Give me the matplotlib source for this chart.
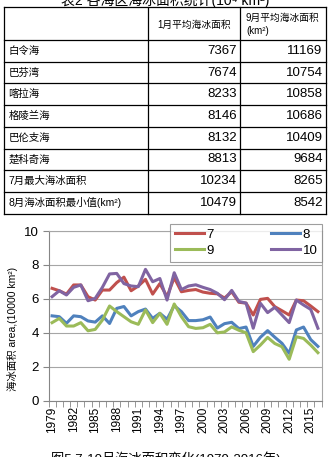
import matplotlib
matplotlib.use("Agg")
import matplotlib.pyplot as plt
import numpy as np

plt.rcParams["font.family"] = ["Liberation Sans", "Noto Sans CJK SC", "DejaVu Sans"]

# ---- table data ----
table_title = "表2 各海区海冰面积统计(10⁴ km²)"
col_headers = ["1月平均海冰面积", "9月平均海冰面积\n(km²)"]
row_labels = ["白令海", "巴芬湾", "喀拉海", "格陵兰海", "巴伦支海", "楚科奇海",
              "7月最大海冰面积", "8月海冰面积最小值(km²)"]
col1_vals = [7367, 7674, 8233, 8146, 8132, 8813, 10234, 10479]
col2_vals = [11169, 10754, 10858, 10686, 10409, 9684, 8265, 8542]

# ---- line chart data ----
years = list(range(1979, 2017))
jul = [6.62, 6.48, 6.28, 6.82, 6.82, 6.13, 5.93, 6.52, 6.52, 6.96,
       7.28, 6.48, 6.76, 7.15, 6.28, 6.90, 6.13, 7.25, 6.42, 6.50,
       6.55, 6.40, 6.33, 6.30, 6.05, 6.42, 5.80, 5.75, 5.05, 5.97,
       6.03, 5.54, 5.30, 5.05, 5.93, 5.89, 5.58, 5.25]
aug = [5.00, 4.95, 4.56, 5.00, 4.95, 4.70, 4.63, 5.00, 4.55, 5.44,
       5.55, 5.00, 5.25, 5.40, 4.85, 5.15, 4.80, 5.60, 5.25, 4.72,
       4.72, 4.77, 4.93, 4.28, 4.54, 4.62, 4.25, 4.34, 3.20, 3.74,
       4.13, 3.74, 3.38, 2.79, 4.17, 4.34, 3.60, 3.20]
sep = [4.60, 4.85, 4.40, 4.40, 4.60, 4.12, 4.20, 4.75, 5.58, 5.25,
       4.95, 4.65, 4.50, 5.35, 4.60, 5.15, 4.50, 5.70, 4.95, 4.36,
       4.26, 4.30, 4.50, 4.00, 4.05, 4.35, 4.15, 4.00, 2.89, 3.28,
       3.73, 3.37, 3.18, 2.44, 3.77, 3.67, 3.28, 2.83]
oct_ = [6.13, 6.48, 6.23, 6.68, 6.82, 5.89, 6.03, 6.68, 7.47, 7.50,
        6.90, 6.76, 6.72, 7.74, 7.01, 7.20, 5.93, 7.54, 6.55, 6.76,
        6.83, 6.68, 6.55, 6.33, 5.95, 6.50, 5.85, 5.75, 4.27, 5.74,
        5.19, 5.50, 5.05, 4.60, 5.93, 5.64, 5.38, 4.27]
series = [("7", jul, "#C0504D"), ("8", aug, "#4F81BD"),
          ("9", sep, "#9BBB59"), ("10", oct_, "#8064A2")]

W, H = 331, 457
fig = plt.figure(figsize=(W / 100, H / 100), dpi=100)

# overlay axes in pixel units for the table
tab = fig.add_axes([0, 0, 1, 1])
tab.set_xlim(0, W)
tab.set_ylim(H, 0)
tab.axis("off")

x_left, x_c1, x_c2, x_right = 3.5, 148, 240, 325.5
y_top, y_head = 7, 40
row_h = 21.7
y_bot = y_head + row_h * len(row_labels)

tab.text(W / 2, 0.5, table_title, ha="center", va="center", fontsize=10)
for yy in [y_top, y_head] + [y_head + row_h * (i + 1) for i in range(len(row_labels))]:
    tab.plot([x_left, x_right], [yy, yy], color="black", lw=0.9)
for xx in [x_left, x_c1, x_c2, x_right]:
    tab.plot([xx, xx], [y_top, y_bot], color="black", lw=0.9)

tab.text((x_c1 + x_c2) / 2, (y_top + y_head) / 2 + 1, col_headers[0],
         ha="center", va="center", fontsize=7)
tab.text(x_c2 + 6, (y_top + y_head) / 2 + 1, col_headers[1],
         ha="left", va="center", fontsize=7, linespacing=1.4)

for i, lab in enumerate(row_labels):
    yc = y_head + row_h * (i + 0.5)
    tab.text(x_left + 5, yc, lab, ha="left", va="center", fontsize=7.5)
    tab.text(x_c2 - 3, yc, str(col1_vals[i]), ha="right", va="center", fontsize=9.5)
    tab.text(x_right - 3, yc, str(col2_vals[i]), ha="right", va="center", fontsize=9.5)

# line chart
px0, px1, py0, py1 = 48.5, 321.5, 231, 400.7
ax = fig.add_axes([px0 / W, 1 - py1 / H, (px1 - px0) / W, (py1 - py0) / H])
x = np.arange(len(years))
lines = {}
for name, vals, c in series:
    lines[name], = ax.plot(x, vals, color=c, lw=2.2, label=name)

ax.set_xlim(-0.5, len(years) - 0.5)
ax.set_ylim(0, 10)
ax.set_yticks(range(0, 11, 2))
ax.grid(axis="y", color="#A6A6A6", lw=0.8)
ax.set_axisbelow(True)
for s in ["left", "bottom"]:
    ax.spines[s].set_color("#868686")
for s in ["right", "top"]:
    ax.spines[s].set_color("#A6A6A6")
    ax.spines[s].set_linewidth(0.8)

ax.set_xticks(x[::3])
ax.set_xticklabels([str(y) for y in years[::3]], rotation=90, fontsize=8.5)
ax.set_xticks(np.arange(-0.5, len(years)), minor=True)
ax.tick_params(axis="x", which="major", length=0, pad=4)
ax.tick_params(axis="x", which="minor", length=4, color="#868686")
ax.tick_params(axis="y", length=4, color="#868686", labelsize=9.5, pad=3)

ax.set_ylabel("海冰面积 area,(10000 km²)", fontsize=7.5)
ax.yaxis.set_label_coords(-0.11, 0.42)

# legend: row 1 = 7, 8 ; row 2 = 9, 10
order = ["7", "9", "8", "10"]
lx0 = (170 - px0) / (px1 - px0)
lw_ = (322 - 170) / (px1 - px0)
ltop = (py1 - 224) / (py1 - py0)
leg = ax.legend([lines[k] for k in order], order, ncol=2, loc="upper left",
                bbox_to_anchor=(lx0, ltop, lw_, 0), mode="expand",
                fontsize=9.5, frameon=True, fancybox=False, edgecolor="#868686",
                handlelength=2.2, handletextpad=0.2,
                borderpad=0.35, labelspacing=0.3, borderaxespad=0)
leg.get_frame().set_linewidth(0.8)

tab.text(W / 2, H + 2, "图5 7-10月海冰面积变化(1979-2016年)", ha="center",
         va="center", fontsize=9.5)

fig.savefig("out.png", dpi=100)
